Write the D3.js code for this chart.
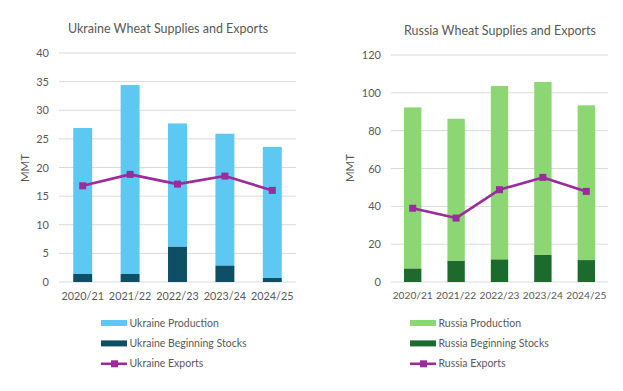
<!DOCTYPE html>
<html><head><meta charset="utf-8">
<script src="https://cdn.jsdelivr.net/npm/d3@7"></script>
<style>
body{margin:0;background:#fff;}
svg text{font-family:Lato,"Open Sans",sans-serif;fill:#595959;}
</style></head>
<body><svg id="c" width="623" height="391"></svg>
<script>
const years = ["2020/21","2021/22","2022/23","2023/24","2024/25"];
const ukraineProduction = [25.5, 33.0, 21.5, 23.0, 22.9];
const ukraineStocks = [1.4, 1.4, 6.2, 2.9, 0.7];
const ukraineExports = [16.8, 18.8, 17.1, 18.5, 16.0];
const russiaProduction = [85.1, 75.0, 91.6, 91.4, 81.8];
const russiaStocks = [7.2, 11.3, 12.0, 14.3, 11.6];
const russiaExports = [39.0, 33.8, 48.8, 55.3, 47.9];
const ukraineTicks = [0,5,10,15,20,25,30,35,40];
const russiaTicks = [0,20,40,60,80,100,120];

const svg = d3.select("#c");
const purple = "#9B2C9B";

function panel(cfg){
  const g = svg.append("g");
  const x = d3.scaleBand().domain(years).range([cfg.x0, cfg.x1]).paddingInner(0.6).paddingOuter(0.3);
  const y = d3.scaleLinear().domain([0, cfg.max]).range([282, cfg.yTop]);
  g.selectAll("line.grid").data(cfg.ticks).join("line")
    .attr("x1", cfg.x0).attr("x2", cfg.x1)
    .attr("y1", d=>y(d)).attr("y2", d=>y(d))
    .attr("stroke", "#d9d9d9").attr("stroke-width", 1);
  const ya = g.append("g").attr("transform", `translate(${cfg.x0 - 6},0)`)
    .call(d3.axisLeft(y).tickValues(cfg.ticks).tickSize(0).tickPadding(4));
  ya.select(".domain").remove();
  ya.selectAll("text").style("font-size","11px").attr("fill","#595959");
  const stocks = cfg.stocks, prod = cfg.prod;
  g.selectAll("rect.s").data(years).join("rect")
    .attr("x", d=>x(d)).attr("width", x.bandwidth())
    .attr("y", (d,i)=>y(stocks[i])).attr("height",(d,i)=>y(0)-y(stocks[i]))
    .attr("fill", cfg.dark);
  g.selectAll("rect.p").data(years).join("rect")
    .attr("x", d=>x(d)).attr("width", x.bandwidth())
    .attr("y", (d,i)=>y(stocks[i]+prod[i])).attr("height",(d,i)=>y(stocks[i])-y(stocks[i]+prod[i]))
    .attr("fill", cfg.light);
  const xa = g.append("g").attr("transform", `translate(0,282)`)
    .call(d3.axisBottom(x).tickSize(0).tickPadding(10));
  xa.select(".domain").remove();
  xa.selectAll("text").style("font-size", cfg.xFont).attr("fill","#595959");
  const line = d3.line().x((d,i)=>x(years[i])+x.bandwidth()/2).y(d=>y(d));
  g.append("path").datum(cfg.exp).attr("d", line).attr("fill","none")
    .attr("stroke", purple).attr("stroke-width", 2.6).attr("stroke-linejoin","round");
  g.selectAll("rect.m").data(cfg.exp).join("rect")
    .attr("x",(d,i)=>x(years[i])+x.bandwidth()/2-3.5).attr("y",d=>y(d)-3.5)
    .attr("width",7).attr("height",7).attr("fill",purple);
  g.append("text").attr("x", cfg.titleX).attr("y", cfg.titleY).attr("text-anchor","middle")
    .style("font-size","12.5px").text(cfg.title);
  g.append("text").attr("transform",`translate(${cfg.labX},168) rotate(-90)`)
    .attr("text-anchor","middle").attr("dy","0.35em").style("font-size","11.5px").text("MMT");
  const items = [
    {name: cfg.country+" Production", type:"bar", color: cfg.light},
    {name: cfg.country+" Beginning Stocks", type:"bar", color: cfg.dark},
    {name: cfg.country+" Exports", type:"line", color: purple}
  ];
  const lg = g.selectAll("g.lg").data(items).join("g")
    .attr("transform",(d,i)=>`translate(${cfg.legX},${323 + i*20.4})`);
  lg.filter(d=>d.type==="bar").append("rect").attr("x",0).attr("y",-3).attr("width",26).attr("height",6).attr("fill",d=>d.color);
  lg.filter(d=>d.type==="line").append("line").attr("x1",0).attr("x2",26).attr("y1",0).attr("y2",0).attr("stroke",purple).attr("stroke-width",2.6);
  lg.filter(d=>d.type==="line").append("rect").attr("x",10).attr("y",-3.5).attr("width",7).attr("height",7).attr("fill",purple);
  lg.append("text").attr("x",28.5).attr("y",0).attr("dy","0.35em").style("font-size","10.5px").text(d=>d.name);
}

panel({country:"Ukraine", title:"Ukraine Wheat Supplies and Exports", x0:59, x1:296, yTop:53, max:40,
  ticks:ukraineTicks, prod:ukraineProduction, stocks:ukraineStocks, exp:ukraineExports,
  light:"#5DC8F2", dark:"#0E4F66", titleX:168, titleY:33, labX:25, legX:101, xFont:"10.8px"});
panel({country:"Russia", title:"Russia Wheat Supplies and Exports", x0:391, x1:608, yTop:55, max:120,
  ticks:russiaTicks, prod:russiaProduction, stocks:russiaStocks, exp:russiaExports,
  light:"#8CD773", dark:"#1C6B2C", titleX:500, titleY:35, labX:350, legX:410, xFont:"10.2px"});
</script></body></html>
